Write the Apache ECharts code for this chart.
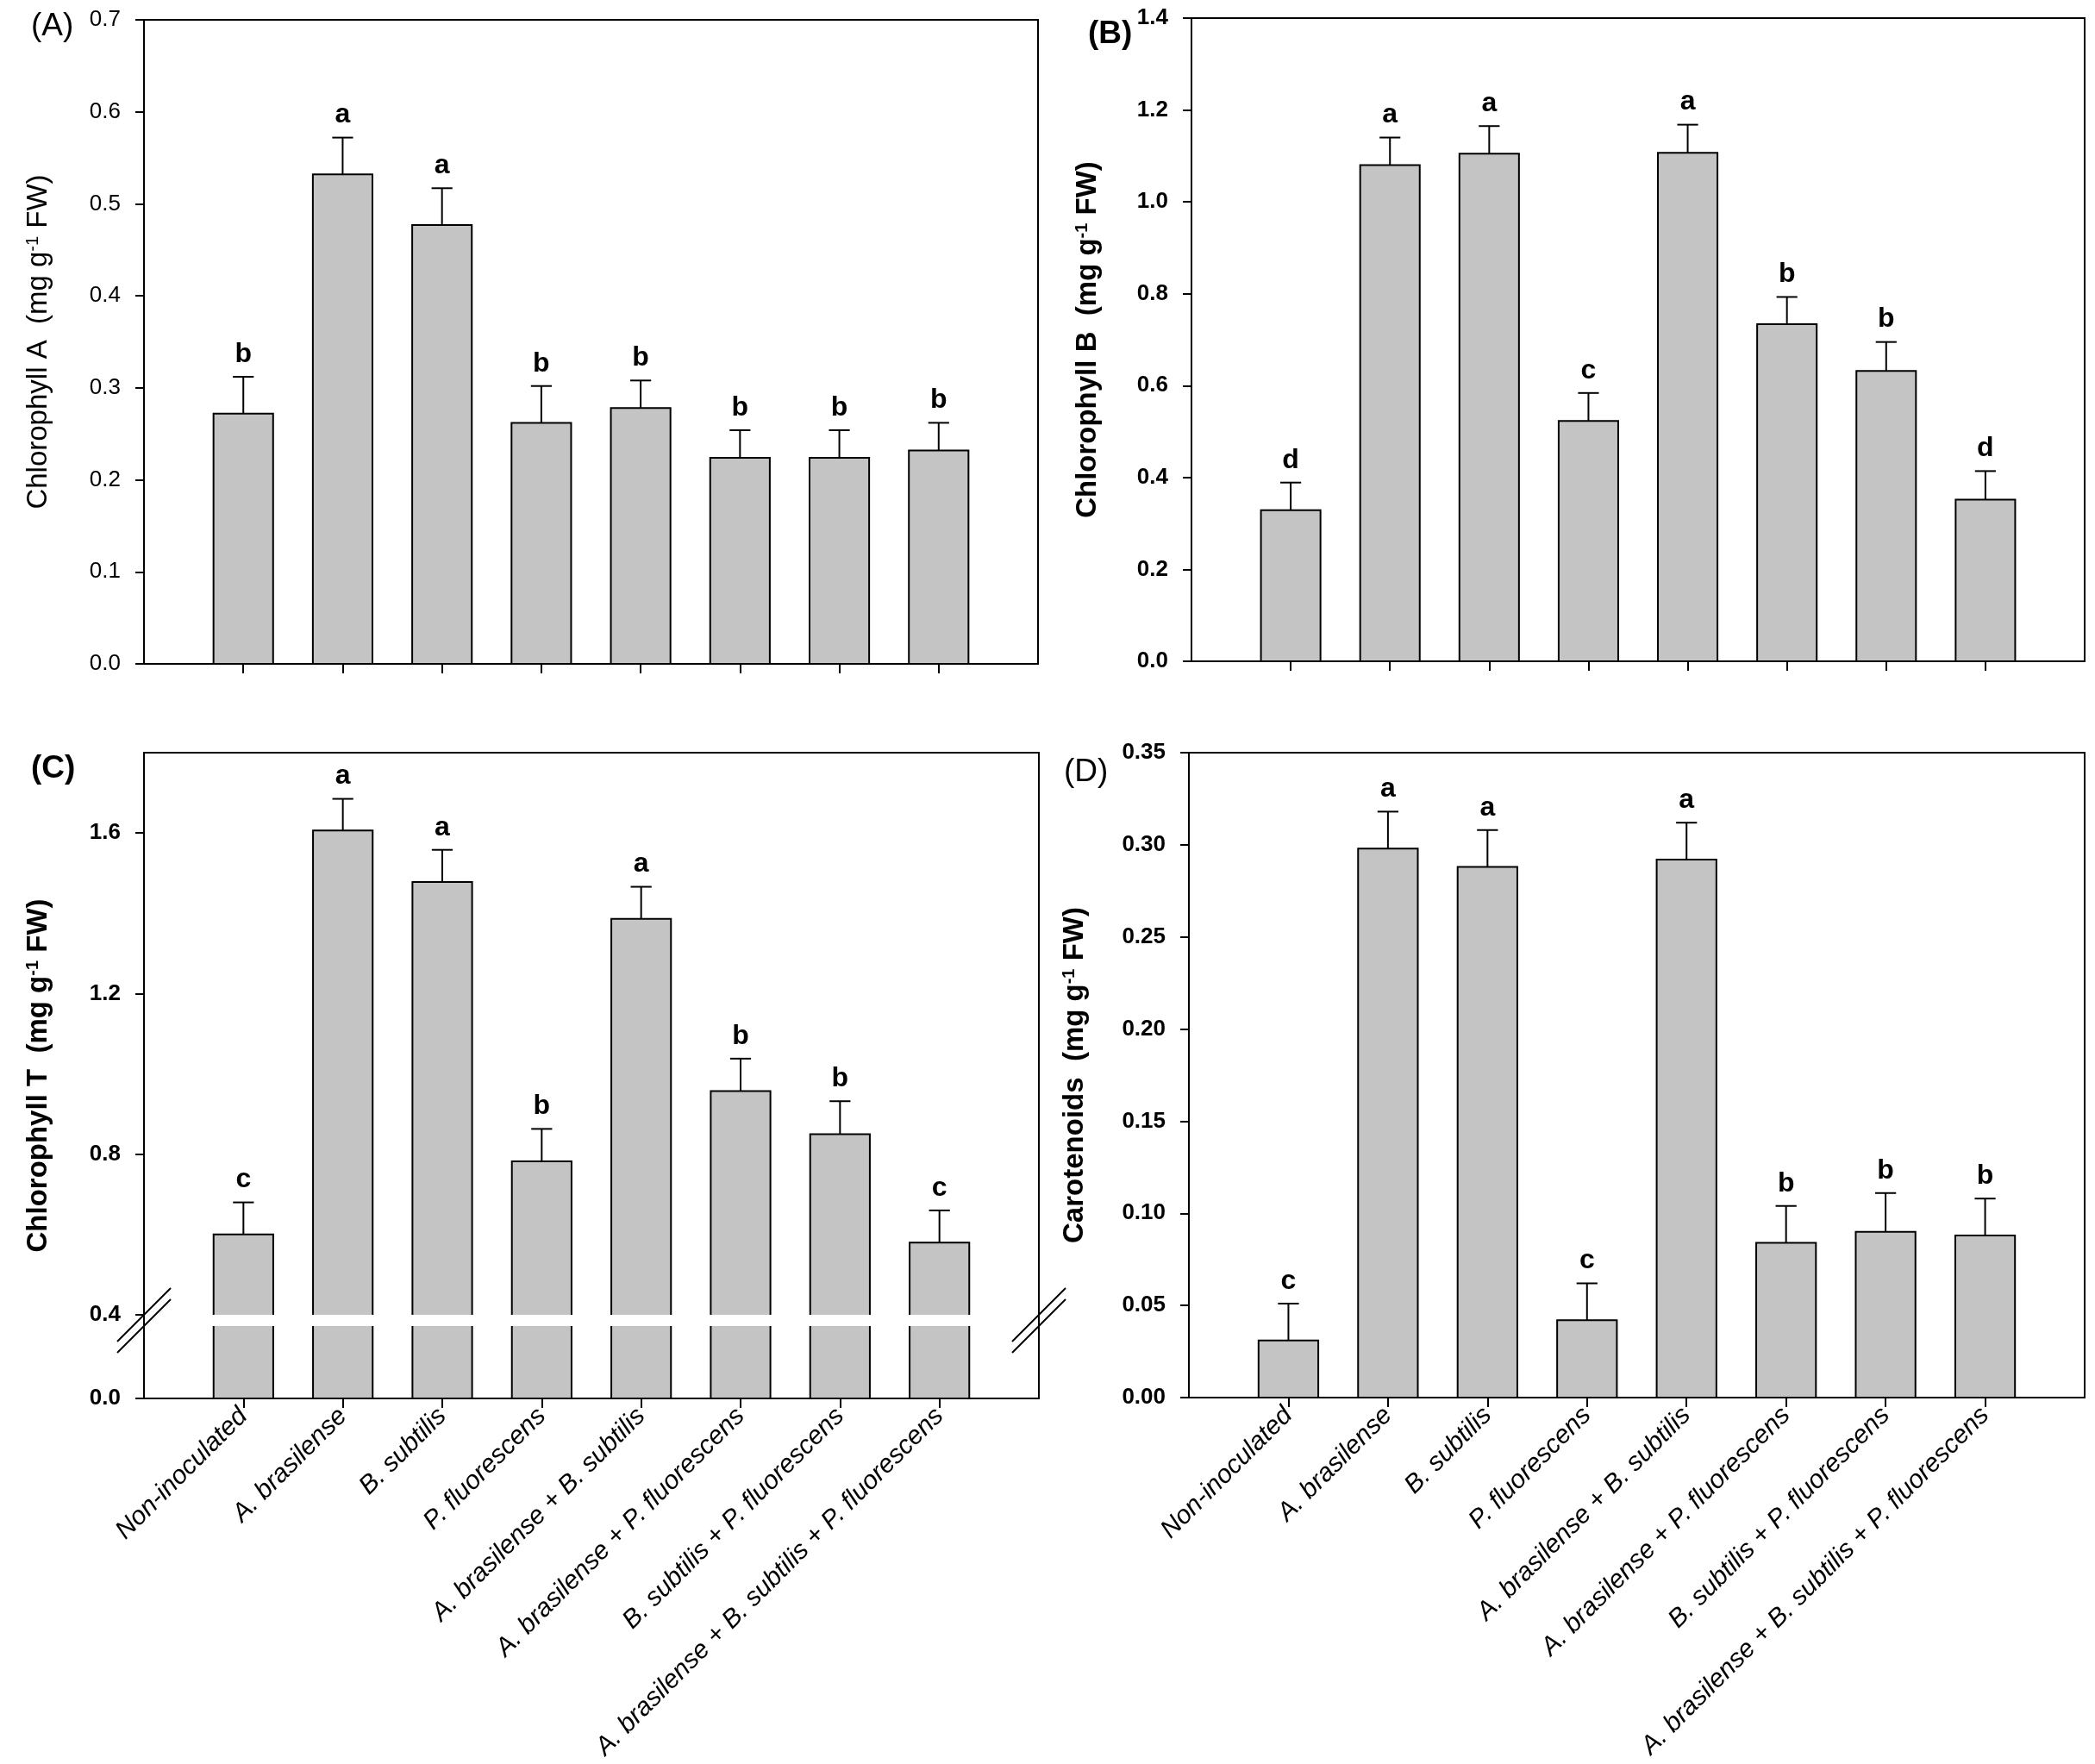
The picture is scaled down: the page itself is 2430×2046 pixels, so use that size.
<!DOCTYPE html>
<html>
<head>
<meta charset="utf-8">
<script src="https://cdn.jsdelivr.net/npm/echarts@6/dist/echarts.min.js"></script>
<style>
  html, body { margin: 0; padding: 0; background: #fff; }
  #main { width: 2430px; height: 2046px; }
</style>
</head>
<body>
<div id="main"></div>
<script>
// treatments (x positions 1..8)
var names = ['Non-inoculated', 'A. brasilense', 'B. subtilis', 'P. fluorescens',
  'A. brasilense + B. subtilis', 'A. brasilense + P. fluorescens',
  'B. subtilis + P. fluorescens', 'A. brasilense + B. subtilis + P. fluorescens'];
var xPos = [1, 2, 3, 4, 5, 6, 7, 8];

// (A) chlorophyll a
var chlA = [0.272, 0.532, 0.477, 0.262, 0.278, 0.224, 0.224, 0.232];
var chlAErr = [0.040, 0.040, 0.040, 0.040, 0.030, 0.030, 0.030, 0.030];
var chlALetters = ['b', 'a', 'a', 'b', 'b', 'b', 'b', 'b'];
// (B) chlorophyll b
var chlB = [0.329, 1.080, 1.105, 0.523, 1.107, 0.734, 0.632, 0.352];
var chlBErr = [0.060, 0.060, 0.060, 0.061, 0.061, 0.059, 0.063, 0.062];
var chlBLetters = ['d', 'a', 'a', 'c', 'a', 'b', 'b', 'd'];
// (C) total chlorophyll
var chlT = [0.600, 1.606, 1.478, 0.782, 1.386, 0.957, 0.850, 0.580];
var chlTErr = [0.080, 0.079, 0.080, 0.081, 0.080, 0.081, 0.082, 0.080];
var chlTLetters = ['c', 'a', 'a', 'b', 'a', 'b', 'b', 'c'];
// (D) carotenoids
var carot = [0.031, 0.298, 0.288, 0.042, 0.292, 0.084, 0.090, 0.088];
var carotErr = [0.020, 0.020, 0.020, 0.020, 0.020, 0.020, 0.021, 0.020];
var carotLetters = ['c', 'a', 'a', 'c', 'a', 'b', 'b', 'b'];

// tick labels
var ticksA = [0, 0.1, 0.2, 0.3, 0.4, 0.5, 0.6, 0.7];
var ticksB = [0, 0.2, 0.4, 0.6, 0.8, 1.0, 1.2, 1.4];
var ticksCUp = [0.4, 0.8, 1.2, 1.6];
var ticksCLow = [0];
var ticksD = [0, 0.05, 0.10, 0.15, 0.20, 0.25, 0.30, 0.35];

var FONT = '"Liberation Sans", Arial, Helvetica, sans-serif';
var GRAY = '#c4c4c4';

function rows(means, errs) {
  return xPos.map(function (x, i) { return [x, means[i], errs[i]]; });
}

// bar + upper error bar + letter, drawn with the axes' own scale
function barRender(letters, withErr) {
  return function (params, api) {
    var i = params.dataIndex;
    var x = api.value(0), v = api.value(1), e = api.value(2);
    var cs = params.coordSys;
    var w = api.size([1, 0])[0] * 0.6;
    var p = api.coord([x, v]);
    var cx = p[0];
    var yBase = cs.y + cs.height;
    var cut = p[1] < cs.y;
    var yt = Math.max(p[1], cs.y);
    var ln = { stroke: '#000', lineWidth: 2 };
    var kids = [{
      type: 'rect',
      shape: { x: cx - w / 2, y: yt, width: w, height: yBase - yt },
      style: { fill: GRAY }
    }];
    if (cut) {
      kids.push({ type: 'line', shape: { x1: cx - w / 2, y1: yt, x2: cx - w / 2, y2: yBase }, style: ln });
      kids.push({ type: 'line', shape: { x1: cx + w / 2, y1: yt, x2: cx + w / 2, y2: yBase }, style: ln });
    } else {
      kids.push({
        type: 'polyline',
        shape: { points: [[cx - w / 2, yBase], [cx - w / 2, yt], [cx + w / 2, yt], [cx + w / 2, yBase]] },
        style: { stroke: '#000', lineWidth: 2, fill: null }
      });
    }
    if (withErr) {
      var yc = api.coord([x, v + e])[1];
      var cap = w * 0.35;
      kids.push({ type: 'line', shape: { x1: cx, y1: yt, x2: cx, y2: yc }, style: ln });
      kids.push({ type: 'line', shape: { x1: cx - cap / 2, y1: yc, x2: cx + cap / 2, y2: yc }, style: ln });
      kids.push({
        type: 'text', x: cx, y: yc - 10,
        style: {
          text: letters[i], fill: '#000', align: 'center', verticalAlign: 'bottom',
          fontSize: 32, fontWeight: 'bold', fontFamily: FONT
        }
      });
    }
    return { type: 'group', children: kids };
  };
}

var axisLineStyle = { color: '#000', width: 2 };

function xAx(grid, labels, hidden) {
  return {
    type: 'value', gridIndex: grid, min: 0, max: 9, interval: 1, z: 10,
    show: !hidden,
    axisLine: { show: true, lineStyle: axisLineStyle },
    axisTick: { show: true, customValues: xPos, length: 11, lineStyle: axisLineStyle },
    axisLabel: {
      show: labels, customValues: xPos, rotate: 45, margin: 16,
      fontSize: 30, fontStyle: 'italic', fontFamily: FONT, color: '#000',
      formatter: function (v) { return names[Math.round(v) - 1] || ''; }
    },
    splitLine: { show: false }
  };
}

function yAx(grid, min, max, interval, ticks, digits, bold, name, gap, lineShow) {
  return {
    type: 'value', gridIndex: grid, min: min, max: max, interval: interval, z: 10,
    axisLine: { show: lineShow, lineStyle: axisLineStyle },
    axisTick: { show: true, customValues: ticks, length: 10, lineStyle: axisLineStyle },
    axisLabel: {
      customValues: ticks, margin: 27, fontSize: 26,
      fontWeight: bold ? 'bold' : 'normal', fontFamily: FONT, color: '#000',
      formatter: function (v) { return v.toFixed(digits); }
    },
    splitLine: { show: false },
    name: name, nameLocation: 'middle', nameGap: gap,
    nameTextStyle: {
      fontSize: 33, fontWeight: bold ? 'bold' : 'normal', fontFamily: FONT, color: '#000',
      rich: { sup: { fontSize: 20, verticalAlign: 'top', fontWeight: bold ? 'bold' : 'normal', fontFamily: FONT } }
    }
  };
}

function gridBox(l, t, w, h, border) {
  return {
    left: l, top: t, width: w, height: h, containLabel: false, outerBoundsMode: 'none',
    show: border, borderColor: '#000', borderWidth: 2, backgroundColor: 'transparent'
  };
}

// break marks on panel C
function brk(x, y) {
  return { type: 'line', shape: { x1: x - 31, y1: y + 31, x2: x + 31, y2: y - 31 }, style: { stroke: '#000', lineWidth: 2 }, z: 20 };
}
function panelLabel(t, x, y, bold) {
  return { type: 'text', x: x, y: y, style: { text: t, fontSize: 37, fontWeight: bold ? 'bold' : 'normal', fontFamily: FONT, fill: '#000', verticalAlign: 'middle' }, z: 20 };
}

var C_L = 167, C_T = 873, C_W = 1038, C_H = 749, C_UPH = 652, C_LOWT = 1538;

var option = {
  backgroundColor: '#fff',
  animation: false,
  grid: [
    gridBox(167, 23, 1037, 747, true),
    gridBox(1382, 21, 1036, 746, true),
    gridBox(C_L, C_T, C_W, C_H, true),
    gridBox(C_L, C_T, C_W, C_UPH, false),
    gridBox(C_L, C_LOWT, C_W, C_T + C_H - C_LOWT, false),
    gridBox(1379, 873, 1039, 748, true)
  ],
  xAxis: [
    xAx(0, false),
    xAx(1, false),
    { type: 'value', gridIndex: 2, min: 0, max: 9, show: false },
    xAx(3, false, true),
    xAx(4, true),
    xAx(5, true)
  ],
  yAxis: [
    yAx(0, 0, 0.7, 0.1, ticksA, 1, false, 'Chlorophyll A  (mg g{sup|-1} FW)', 106, true),
    yAx(1, 0, 1.4, 0.2, ticksB, 1, true, 'Chlorophyll B  (mg g{sup|-1} FW)', 104, true),
    {
      type: 'value', gridIndex: 2, min: 0, max: 1,
      axisLine: { show: false }, axisTick: { show: false }, axisLabel: { show: false }, splitLine: { show: false },
      name: 'Chlorophyll T  (mg g{sup|-1} FW)', nameLocation: 'middle', nameGap: 106,
      nameTextStyle: {
        fontSize: 33, fontWeight: 'bold', fontFamily: FONT, color: '#000',
        rich: { sup: { fontSize: 20, verticalAlign: 'top', fontWeight: 'bold', fontFamily: FONT } }
      }
    },
    yAx(3, 0.4, 1.8, 0.4, ticksCUp, 1, true, '', 0, false),
    yAx(4, 0, 0.4, 0.4, ticksCLow, 1, true, '', 0, false),
    yAx(5, 0, 0.35, 0.05, ticksD, 2, true, 'Carotenoids  (mg g{sup|-1} FW)', 116, true)
  ],
  series: [
    { type: 'custom', xAxisIndex: 0, yAxisIndex: 0, renderItem: barRender(chlALetters, true), encode: { x: 0, y: 1 }, data: rows(chlA, chlAErr) },
    { type: 'custom', xAxisIndex: 1, yAxisIndex: 1, renderItem: barRender(chlBLetters, true), encode: { x: 0, y: 1 }, data: rows(chlB, chlBErr) },
    { type: 'custom', xAxisIndex: 3, yAxisIndex: 3, renderItem: barRender(chlTLetters, true), encode: { x: 0, y: 1 }, data: rows(chlT, chlTErr) },
    { type: 'custom', xAxisIndex: 4, yAxisIndex: 4, renderItem: barRender(chlTLetters, false), encode: { x: 0, y: 1 }, data: rows(chlT, chlTErr) },
    { type: 'custom', xAxisIndex: 5, yAxisIndex: 5, renderItem: barRender(carotLetters, true), encode: { x: 0, y: 1 }, data: rows(carot, carotErr) }
  ],
  graphic: [
    panelLabel('(A)', 36, 31, false),
    panelLabel('(B)', 1262, 40, true),
    panelLabel('(C)', 36, 892, true),
    panelLabel('(D)', 1234, 896, false),
    brk(C_L, C_T + C_UPH), brk(C_L, C_LOWT),
    brk(C_L + C_W, C_T + C_UPH), brk(C_L + C_W, C_LOWT)
  ]
};

var chart = echarts.init(document.getElementById('main'));
chart.setOption(option);
</script>
</body>
</html>
